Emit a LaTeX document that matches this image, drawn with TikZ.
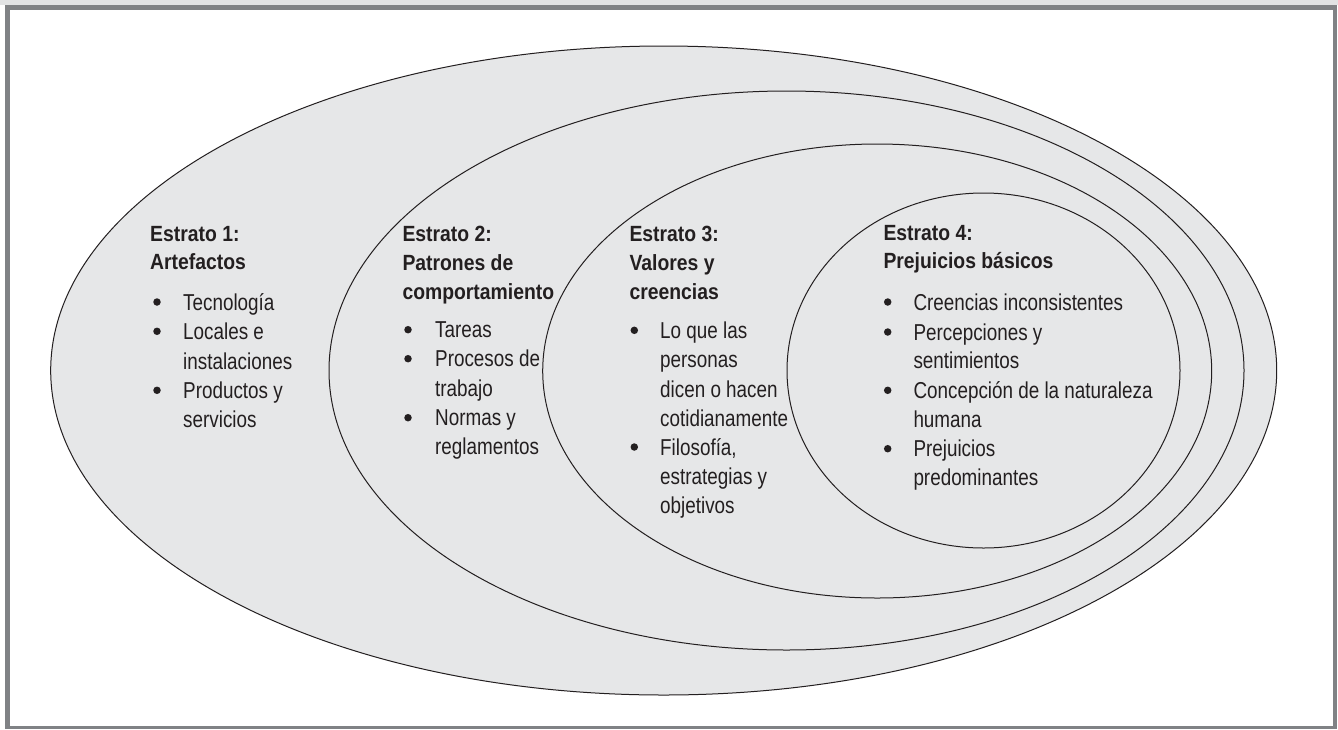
\documentclass[tikz,border=0pt]{standalone}
\usepackage{fontspec}
\newfontfamily\bodyfont{Liberation Sans}[FakeStretch=0.82]
\newfontfamily\headfont{Liberation Sans}[FakeStretch=0.88]
\definecolor{ellfill}{HTML}{E6E7E8}
\definecolor{framegrey}{HTML}{808285}
\definecolor{topgrey}{HTML}{E2E3E4}
\definecolor{ink}{HTML}{231F20}
\begin{document}
\begin{tikzpicture}[x=1pt,y=-1pt,
  layer/.style={fill=ellfill, draw=ink, line width=1pt},
  hd/.style={anchor=base west, inner sep=0pt, text=ink, font=\headfont\bfseries\fontsize{22pt}{26pt}\selectfont},
  bt/.style={anchor=base west, inner sep=0pt, text=ink, font=\bodyfont\fontsize{23pt}{28pt}\selectfont},
  bu/.style={circle, fill=ink, inner sep=0pt, minimum size=7.5pt}]
\useasboundingbox (0,0) rectangle (1338,729);
% frame
\fill[topgrey] (0,0) rectangle (1338,4.5);
\fill[framegrey] (4.5,4.5) rectangle (1337,729);
\fill[white] (10,10) rectangle (1333,726);
% layers
\path[layer] (663.7,370.5) ellipse [x radius=613, y radius=324.5];
\path[layer] (786.5,370.5) ellipse [x radius=457.5, y radius=279.5];
\path[layer] (877.2,371) ellipse [x radius=334.5, y radius=227];
\path[layer] (983.5,370.5) ellipse [x radius=196.5, y radius=177.5];
% block 1
\node[hd] (h1a) at (150,241) {Estrato 1:};
\node[hd] (h1b) at (150,269.5) {Artefactos};
\node[bu] (b1a) at (157,302) {};
\node[bu] (b1b) at (157,331.3) {};
\node[bu] (b1c) at (157,390.3) {};
\node[bt] (t1a) at (183,310) {Tecnología};
\node[bt] (t1b) at (183,339.3) {Locales e};
\node[bt] (t1c) at (183,369) {instalaciones};
\node[bt] (t1d) at (183,398.3) {Productos y};
\node[bt] (t1e) at (183,427.3) {servicios};
% block 2
\node[hd] (h2a) at (402.3,241.7) {Estrato 2:};
\node[hd] (h2b) at (402.3,270.7) {Patrones de};
\node[hd] (h2c) at (402.3,299.3) {comportamiento};
\node[bu] (b2a) at (408,329.7) {};
\node[bu] (b2b) at (408,358.7) {};
\node[bu] (b2c) at (408,417.7) {};
\node[bt] (t2a) at (435,337.7) {Tareas};
\node[bt] (t2b) at (435,366.7) {Procesos de};
\node[bt] (t2c) at (435,396) {trabajo};
\node[bt] (t2d) at (435,425.7) {Normas y};
\node[bt] (t2e) at (435,454.3) {reglamentos};
% block 3
\node[hd] (h3a) at (629.3,241.7) {Estrato 3:};
\node[hd] (h3b) at (629.3,270.7) {Valores y};
\node[hd] (h3c) at (629.3,299.3) {creencias};
\node[bu] (b3a) at (634.3,330.3) {};
\node[bu] (b3b) at (634.3,447) {};
\node[bt] (t3a) at (660,338.3) {Lo que las};
\node[bt] (t3b) at (660,367.3) {personas};
\node[bt] (t3c) at (660,397) {dicen o hacen};
\node[bt] (t3d) at (660,426) {cotidianamente};
\node[bt] (t3e) at (660,455) {Filosofía,};
\node[bt] (t3f) at (660,484) {estrategias y};
\node[bt] (t3g) at (660,513.3) {objetivos};
% block 4
\node[hd] (h4a) at (883.3,240) {Estrato 4:};
\node[hd] (h4b) at (883.3,268.3) {Prejuicios básicos};
\node[bu] (b4a) at (887.7,302) {};
\node[bu] (b4b) at (887.7,332) {};
\node[bu] (b4c) at (887.7,390.3) {};
\node[bu] (b4d) at (887.7,448.7) {};
\node[bt] (t4a) at (913.3,310) {Creencias inconsistentes};
\node[bt] (t4b) at (913.3,340) {Percepciones y};
\node[bt] (t4c) at (913.3,368.3) {sentimientos};
\node[bt] (t4d) at (913.3,398.3) {Concepción de la naturaleza};
\node[bt] (t4e) at (913.3,427.3) {humana};
\node[bt] (t4f) at (913.3,456.7) {Prejuicios};
\node[bt] (t4g) at (913.3,485) {predominantes};
\end{tikzpicture}
\end{document}
